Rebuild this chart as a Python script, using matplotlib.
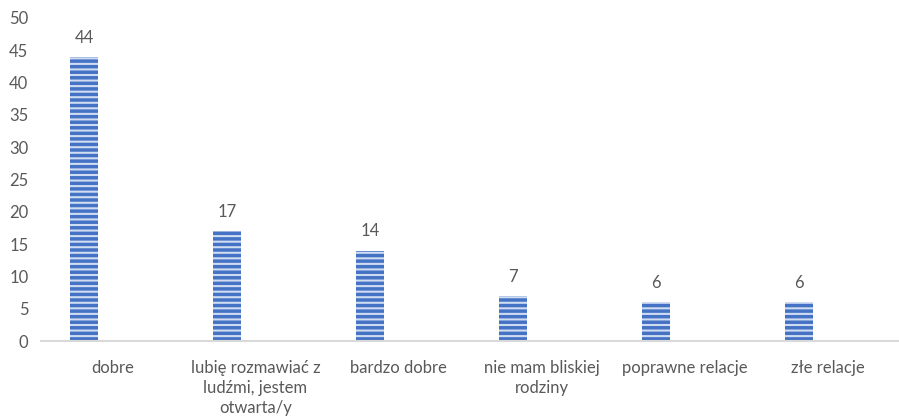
import numpy as np
import matplotlib
matplotlib.use('Agg')
import matplotlib.pyplot as plt

categories = [
    'dobre',
    'lubię rozmawiać z\nludźmi, jestem\notwarta/y',
    'bardzo dobre',
    'nie mam bliskiej\nrodziny',
    'poprawne relacje',
    'złe relacje',
]
values = [44, 17, 14, 7, 6, 6]
yticks = [0, 5, 10, 15, 20, 25, 30, 35, 40, 45, 50]

plt.rcParams['font.family'] = ['Lato', 'DejaVu Sans']
plt.rcParams['hatch.linewidth'] = 1.5
text_color = '#595959'
fs = 12

fig = plt.figure(figsize=(8.99, 4.2), dpi=100)
ax = fig.add_axes([41 / 899, 79 / 420, 1 - 41 / 899, 323 / 420])

x = np.arange(len(categories))
bar_x = x - 0.2
bars = ax.bar(bar_x, values, width=0.2, color='#4472C4', edgecolor='#d0dcf2',
              hatch='---', linewidth=0)

for bx, v in zip(bar_x, values):
    ax.annotate(str(v), (bx, v), xytext=(0, 8), textcoords='offset points',
                ha='center', va='bottom', fontsize=fs, color=text_color)

ax.set_xlim(-0.5, len(categories) - 0.5)
ax.set_ylim(0, 50)
ax.set_yticks(yticks)
ax.set_xticks(x)
ax.set_xticklabels(categories, fontsize=fs, color=text_color, linespacing=1.3)
ax.tick_params(axis='y', length=0, pad=9, labelsize=fs, labelcolor=text_color)
ax.tick_params(axis='x', length=0, pad=14)

for s in ['top', 'right', 'left']:
    ax.spines[s].set_visible(False)
ax.spines['bottom'].set_color('#d9d9d9')
ax.spines['bottom'].set_linewidth(1.5)

fig.savefig('out.png', dpi=100)
